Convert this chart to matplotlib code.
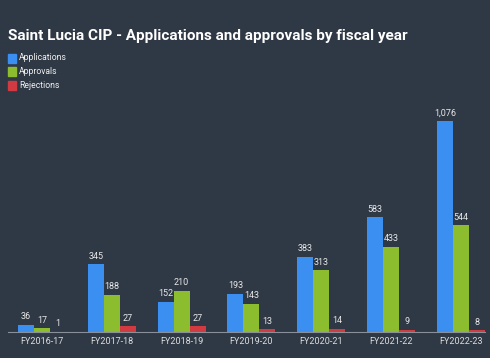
import numpy as np
import matplotlib
matplotlib.use('Agg')
import matplotlib.pyplot as plt

years = ['FY2016-17', 'FY2017-18', 'FY2018-19', 'FY2019-20',
         'FY2020-21', 'FY2021-22', 'FY2022-23']
applications = [36, 345, 152, 193, 383, 583, 1076]
approvals = [17, 188, 210, 143, 313, 433, 544]
rejections = [1, 27, 27, 13, 14, 9, 8]

bg = '#2f3845'
colors = ['#3b8ff0', '#8bbd2f', '#d03a40']
names = ['Applications', 'Approvals', 'Rejections']

plt.rcParams['font.family'] = ['Roboto', 'DejaVu Sans']

fig = plt.figure(figsize=(4.9, 3.58), dpi=100)
fig.patch.set_facecolor(bg)

# axes from pixel x 8..485, baseline at y=331.7
ax = fig.add_axes([8/490, 26.3/358, 477/490, 231.7/358])
ax.set_facecolor(bg)

x = np.arange(len(years))
w = 0.229
series = [applications, approvals, rejections]
for k, (vals, c) in enumerate(zip(series, colors)):
    xs = x + (k - 1) * w
    ax.bar(xs, vals, width=w, color=c, linewidth=0)
    for xi, v in zip(xs, vals):
        ax.text(xi, v + 18, f'{v:,}', ha='center', va='bottom',
                color='#e8e8e8', fontsize=6.5)

ax.set_xlim(-0.487, 6.347)
ax.set_ylim(0, 1182)
ax.set_yticks([])
ax.set_xticks(x)
ax.set_xticklabels(years, color='#dedede', fontsize=6.5)
ax.tick_params(axis='x', length=0, pad=4)
for s in ['top', 'right', 'left']:
    ax.spines[s].set_visible(False)
ax.spines['bottom'].set_color('#8a909a')
ax.spines['bottom'].set_linewidth(0.8)

fig.text(8/490, 1 - 36/358, 'Saint Lucia CIP - Applications and approvals by fiscal year',
         color='white', fontsize=11, fontweight='bold', va='center', ha='left')

for i, (n, c) in enumerate(zip(names, colors)):
    yc = 58 + i * 13.5
    fig.patches.append(plt.Rectangle((8/490, 1 - (yc + 4.5)/358), 8/490, 9/358,
                                     transform=fig.transFigure, color=c,
                                     figure=fig))
    fig.text(19/490, 1 - yc/358, n, color='#f0f0f0', fontsize=6.2,
             va='center', ha='left')

fig.savefig('out.png', dpi=100, facecolor=bg)
